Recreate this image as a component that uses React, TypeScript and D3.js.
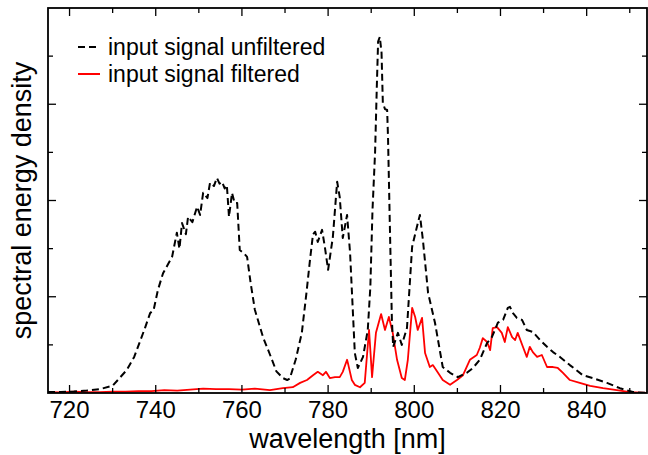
import React from "react";
import * as d3 from "d3";

const unfilteredNm = [715, 718, 721, 724, 727, 730, 731.5, 733.3, 735, 736.3, 737.5, 738.7, 739.5, 740.5, 741.7, 743, 743.8, 744.9, 745.5, 746.1, 747, 747.5, 748.5, 749.6, 750.3, 751, 752, 752.6, 753.5, 754.2, 754.8, 755.4, 756, 756.5, 757, 757.7, 758.3, 758.9, 759.5, 760.5, 761.2, 762, 763, 764.9, 766.5, 768, 769.5, 770.5, 771.1, 772.5, 773.9, 775, 775.8, 776.5, 777, 777.6, 778.6, 779.3, 780, 781.1, 782.1, 782.7, 783.4, 784.4, 785.1, 786.2, 786.9, 788.1, 789.2, 789.8, 790.3, 790.9, 791.3, 791.6, 792, 792.4, 792.7, 793.2, 793.7, 793.9, 794.3, 794.8, 795.1, 796.2, 797.1, 798.3, 799.5, 800.6, 801.3, 802, 803.2, 804.8, 806.6, 808.3, 810.1, 812.2, 813.6, 815.2, 816.9, 818, 819.4, 820.6, 821.7, 822.2, 822.9, 823.8, 825, 826.1, 827.5, 829.2, 830.8, 832.2, 833.8, 836.1, 839.1, 841.4, 844.7, 847.7, 850.7, 854];
const unfilteredVal = [0.02, 0.02, 0.03, 0.05, 0.08, 0.15, 0.3, 0.48, 0.75, 1.06, 1.35, 1.66, 1.72, 2.14, 2.49, 2.7, 2.83, 3.33, 3.0, 3.53, 3.3, 3.66, 3.55, 3.87, 3.7, 4.16, 4.05, 4.37, 4.3, 4.47, 4.35, 4.39, 4.25, 4.32, 3.66, 4.16, 3.95, 3.95, 2.97, 2.9, 2.83, 2.3, 1.73, 1.16, 0.8, 0.45, 0.31, 0.27, 0.3, 0.7, 1.25, 2.1, 2.77, 3.3, 3.35, 3.14, 3.39, 3.0, 2.56, 3.24, 4.39, 4.07, 3.22, 3.7, 2.91, 0.83, 0.52, 0.75, 1.31, 2.2, 3.8, 5.0, 6.36, 7.3, 7.4, 7.07, 6.03, 5.9, 5.88, 5.32, 3.6, 1.52, 0.96, 1.25, 1.0, 1.35, 3.04, 3.45, 3.7, 3.18, 2.08, 1.46, 0.54, 0.42, 0.33, 0.42, 0.52, 0.69, 1.04, 1.16, 1.46, 1.52, 1.77, 1.79, 1.66, 1.56, 1.52, 1.31, 1.27, 1.1, 0.96, 0.85, 0.75, 0.58, 0.37, 0.31, 0.21, 0.1, 0.02, 0.0];

const filteredNm = [715, 718, 721, 724, 727, 730, 733, 736, 739, 742, 745, 748, 751, 754, 757, 760, 763, 766.5, 769.5, 771.8, 773.5, 775.1, 776.5, 777.6, 778.8, 779.5, 780.4, 781.6, 782.7, 783.4, 784.4, 784.6, 785.5, 786.2, 787.4, 788.5, 789.5, 790.2, 791.1, 792.3, 793.2, 794.1, 795, 796, 797.1, 797.8, 798.5, 799.5, 800.2, 800.8, 801.8, 802.5, 803.6, 804.3, 805.5, 806.6, 808.3, 809.9, 811.3, 812.9, 814.5, 815.2, 815.9, 816.9, 817.6, 818.2, 819.2, 820.3, 821, 821.7, 822.7, 823.4, 824, 825.2, 826.1, 826.8, 827.5, 828.5, 829.6, 830.8, 832.2, 833.3, 834.5, 836.1, 838.4, 840.8, 843.8, 847, 850, 854];
const filteredVal = [0.02, 0.01, 0.03, 0.02, 0.02, 0.03, 0.03, 0.04, 0.04, 0.06, 0.05, 0.07, 0.09, 0.08, 0.08, 0.07, 0.09, 0.06, 0.1, 0.12, 0.21, 0.27, 0.37, 0.44, 0.37, 0.44, 0.31, 0.33, 0.33, 0.44, 0.69, 0.62, 0.27, 0.17, 0.12, 0.21, 1.31, 0.33, 1.25, 1.64, 1.31, 1.58, 1.25, 0.69, 0.31, 0.27, 0.69, 1.77, 1.58, 1.31, 1.56, 0.83, 0.54, 0.58, 0.42, 0.27, 0.17, 0.27, 0.37, 0.69, 0.79, 0.94, 1.14, 1.06, 0.89, 1.35, 1.37, 1.25, 1.06, 1.37, 1.16, 1.1, 1.25, 0.96, 0.75, 0.96, 0.85, 0.75, 0.79, 0.54, 0.54, 0.52, 0.42, 0.27, 0.21, 0.15, 0.1, 0.06, 0.02, 0.0];

const xTicks = [720, 740, 760, 780, 800, 820, 840];
const xMinorTicks = [730, 750, 770, 790, 810, 830, 850];
const yMajorTicks = [2, 4, 6];
const yMinorTicks = [1, 3, 5, 7];
const legendLabels = ["input signal unfiltered", "input signal filtered"];

const W = 648, H = 455;
const L = 48, R = 647, T = 8, B = 393;
const FONT = "'Liberation Sans', Arial, Helvetica, sans-serif";

export default function App() {
  const x = d3.scaleLinear().domain([715, 854]).range([L, R]);
  const y = d3.scaleLinear().domain([0, 8]).range([B, T]);
  const line = d3.line<[number, number]>().x((d) => x(d[0])).y((d) => y(d[1]));
  const unf = line(unfilteredNm.map((n, i) => [n, unfilteredVal[i]]) as [number, number][]) || "";
  const fil = line(filteredNm.map((n, i) => [n, filteredVal[i]]) as [number, number][]) || "";
  const majLen = 8, minLen = 5;
  return (
    <svg width={W} height={H} style={{ position: "absolute", left: 0, top: 0, background: "#fff" }}>
      <rect x={0} y={0} width={W} height={H} fill="#fff" />
      <defs>
        <clipPath id="plotclip">
          <rect x={L} y={T} width={R - L} height={B - T} />
        </clipPath>
      </defs>
      <g clipPath="url(#plotclip)">
        <path d={fil} fill="none" stroke="#ff0000" strokeWidth={1.8} strokeLinejoin="round" />
        <path d={unf} fill="none" stroke="#000" strokeWidth={2} strokeDasharray="7,4" strokeLinejoin="round" />
      </g>
      <g stroke="#000" strokeWidth={1.3}>
        {xTicks.map((t) => (
          <g key={"xt" + t}>
            <line x1={x(t)} x2={x(t)} y1={B} y2={B - majLen} />
            <line x1={x(t)} x2={x(t)} y1={T} y2={T + majLen} />
          </g>
        ))}
        {xMinorTicks.map((t) => (
          <g key={"xm" + t}>
            <line x1={x(t)} x2={x(t)} y1={B} y2={B - minLen} />
            <line x1={x(t)} x2={x(t)} y1={T} y2={T + minLen} />
          </g>
        ))}
        {yMajorTicks.map((t) => (
          <g key={"yt" + t}>
            <line x1={L} x2={L + majLen} y1={y(t)} y2={y(t)} />
            <line x1={R} x2={R - majLen} y1={y(t)} y2={y(t)} />
          </g>
        ))}
        {yMinorTicks.map((t) => (
          <g key={"ym" + t}>
            <line x1={L} x2={L + minLen} y1={y(t)} y2={y(t)} />
            <line x1={R} x2={R - minLen} y1={y(t)} y2={y(t)} />
          </g>
        ))}
      </g>
      <rect x={L} y={T} width={R - L} height={B - T} fill="none" stroke="#000" strokeWidth={1.8} />
      <g fontFamily={FONT} fontSize={24} fill="#000" textAnchor="middle">
        {xTicks.map((t) => (
          <text key={"xl" + t} x={x(t)} y={418}>{t}</text>
        ))}
      </g>
      <text x={(L + R) / 2} y={448} fontFamily={FONT} fontSize={27} textAnchor="middle">wavelength [nm]</text>
      <text transform={`translate(31,${(T + B) / 2}) rotate(-90)`} fontFamily={FONT} fontSize={27} textAnchor="middle">spectral energy density</text>
      <g fontFamily={FONT} fontSize={23}>
        <line x1={78} x2={100} y1={47} y2={47} stroke="#000" strokeWidth={2} strokeDasharray="7,4" />
        <text x={108} y={55}>{legendLabels[0]}</text>
        <line x1={78} x2={100} y1={74} y2={74} stroke="#ff0000" strokeWidth={2} />
        <text x={108} y={82}>{legendLabels[1]}</text>
      </g>
    </svg>
  );
}
